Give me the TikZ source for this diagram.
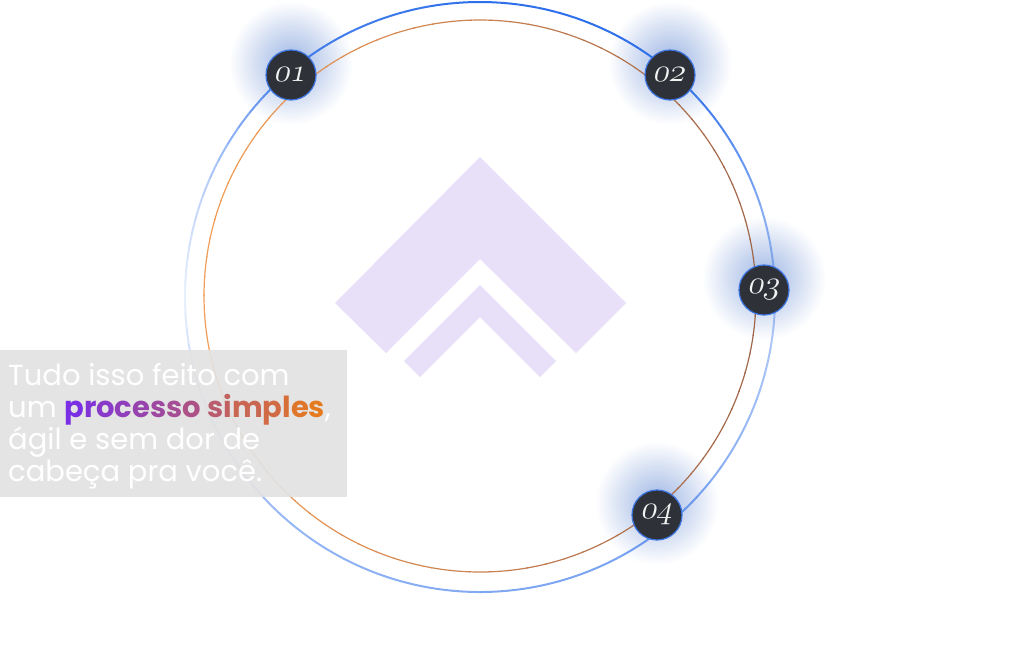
\documentclass[tikz,border=0pt]{standalone}
\usepackage{fontspec}
\newfontfamily\poppins{Poppins}
\usetikzlibrary{positioning}

\definecolor{ringblue}{HTML}{2D6FEA}
\definecolor{ringorange}{HTML}{F39E58}
\definecolor{ringbrown}{HTML}{A0664A}
\definecolor{glowblue}{HTML}{9DB5E3}
\definecolor{dotfill}{HTML}{2E3137}
\definecolor{dotedge}{HTML}{3C74E2}
\definecolor{chevron}{HTML}{E8DFF8}
\definecolor{boxgray}{HTML}{E2E2E2}
\definecolor{gpurple}{HTML}{7A2FE4}
\definecolor{gorange}{HTML}{E57A1E}

\newcommand\numfont{\fontsize{24.88}{26}\usefont{OML}{cmm}{m}{it}}
\newcommand\gradword{\foreach \ch [count=\i from 0] in {p,r,o,c,e,s,s,o,~,s,i,m,p,l,e,s}{%
  \pgfmathtruncatemacro\pc{100-\i*100/15}\textcolor{gpurple!\pc!gorange}{\ch}}}

\tikzset{
  marker/.style={circle, fill=dotfill, draw=dotedge, line width=1.2pt,
    minimum size=50pt, inner sep=0pt},
  numlab/.style={text=white!90!gray, font=\numfont, xslant=0.22, scale=1.3, inner sep=0pt},
  glow/.style={inner color=glowblue, outer color=white},
  infobox/.style={fill=boxgray, fill opacity=0.92, inner sep=0pt, anchor=north west,
    minimum width=347pt, minimum height=147pt},
  infotext/.style={text=white, align=left, inner sep=0pt, anchor=base west,
    font=\poppins\fontsize{29}{32}\selectfont}
}

\begin{document}
\begin{tikzpicture}[x=1pt,y=-1pt]
\useasboundingbox (0,0) rectangle (1024,649);
% step positions
\coordinate (p1) at (291,75);
\coordinate (p2) at (670,75);
\coordinate (p3) at (764,290);
\coordinate (p4) at (657,515);
% glows
\foreach \p in {p1,p2,p3,p4}
  \shade[glow] ([yshift=12pt]\p) circle (62);
% chevrons
\fill[chevron] (480,157) -- (626,303) -- (576,353) -- (480,259) -- (386,353) -- (335,303) -- cycle;
\fill[chevron] (480,285) -- (556,361) -- (540,377) -- (480,317) -- (420,377) -- (404,361) -- cycle;
% orange ring
\foreach \a in {0,4,...,356}{
  \pgfmathtruncatemacro\pc{50*(1-cos(\a+2))}
  \draw[ringorange!\pc!ringbrown, line width=1.2pt] (480,296) ++(\a:276) arc[start angle=\a, end angle=\a+4.3, radius=276];
}
% blue ring
\foreach \a/\b/\oa/\ob in {-90/-60/1/1,-60/-40/1/.9,-40/-15/.9/.55,-15/0/.55/.35,0/20/.35/.45,
    20/50/.45/.65,50/90/.65/.6,90/130/.6/.5,130/155/.5/.35,155/180/.35/.1,180/200/.1/.3,
    200/230/.3/.85,230/270/.85/1}
  \foreach \s in {0,...,7}{
    \pgfmathsetmacro\ta{\a+(\b-\a)*\s/8}
    \pgfmathsetmacro\tb{\a+(\b-\a)*(\s+1)/8}
    \pgfmathsetmacro\op{\oa+(\ob-\oa)*(\s+.5)/8}
    \draw[ringblue, line width=2pt, draw opacity=\op] (480,297) ++(\ta:295) arc[start angle=\ta, end angle=\tb, radius=295];
  }
% steps
\node[marker, label={[numlab]center:01}] (n1) at (p1) {};
\node[marker, label={[numlab]center:02}] (n2) at (p2) {};
\node[marker, label={[numlab]center:03}] (n3) at (p3) {};
\node[marker, label={[numlab]center:04}] (n4) at (p4) {};
% text
\node[infobox] (box) at (0,350) {};
\node[infotext] (info) at (8,481) {Tudo isso feito com\\um \textbf{\gradword},\\ágil e sem dor de\\cabeça pra você.};
\end{tikzpicture}
\end{document}
